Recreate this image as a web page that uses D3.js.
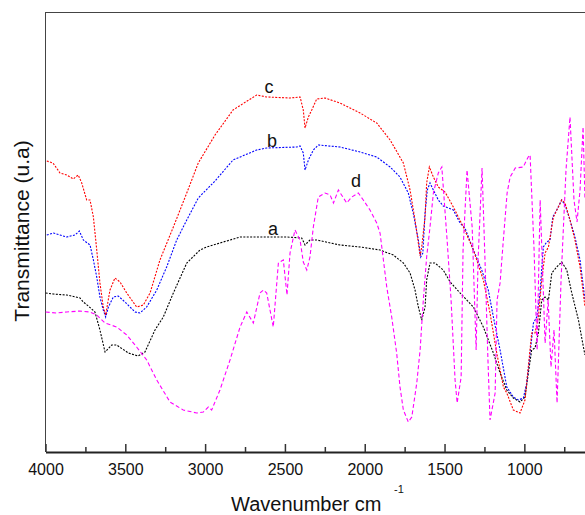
<!DOCTYPE html>
<html>
<head>
<meta charset="utf-8">
<script src="https://cdn.jsdelivr.net/npm/d3@7"></script>
<style>
  body { margin: 0; background: #fff; }
  svg { display: block; font-family: "Liberation Sans", Arial, sans-serif; }
  .spectrum { fill: none; stroke-width: 1.1; }
</style>
</head>
<body>
<svg width="585" height="515"></svg>
<script>
// wavenumber (cm-1), transmittance (arbitrary units, offset per curve)
const curveA = [
  [3999,159],[3951,158],[3867,157],[3784,154],[3763,150],[3732,146],[3690,140],[3659,122],
  [3627,100],[3585,107],[3554,107],[3481,99],[3419,96],[3377,100],[3314,122],[3262,135],
  [3199,159],[3115,189],[3032,202],[2990,205],[2907,209],[2781,215],[2656,215],[2489,215],
  [2395,214],[2374,207],[2343,212],[2301,212],[2155,207],[2029,205],[1904,202],[1821,197],
  [1758,189],[1716,179],[1685,162],[1664,145],[1643,132],[1622,145],[1612,172],[1591,189],
  [1560,189],[1508,182],[1465,170],[1403,159],[1319,145],[1257,125],[1194,99],[1152,79],
  [1110,62],[1069,54],[1027,50],[996,55],[975,79],[954,102],[933,104],[912,119],[891,152],
  [870,155],[849,152],[828,179],[797,185],[766,190],[734,182],[703,159],[661,132],[630,105],[620,97]
];

const curveB = [
  [3992,217],[3951,219],[3909,217],[3867,215],[3815,217],[3788,221],[3763,212],[3721,207],
  [3700,192],[3679,175],[3659,155],[3638,142],[3623,135],[3606,145],[3575,155],[3544,156],
  [3502,150],[3439,140],[3408,139],[3366,145],[3303,162],[3241,185],[3178,212],[3115,232],
  [3043,254],[2938,271],[2825,292],[2677,302],[2614,304],[2426,305],[2405,306],[2385,299],
  [2374,282],[2353,292],[2322,302],[2291,307],[2155,305],[2029,300],[1925,295],[1841,285],
  [1779,275],[1727,259],[1695,238],[1664,212],[1649,195],[1636,199],[1622,239],[1608,262],
  [1591,269],[1570,262],[1539,252],[1508,246],[1445,242],[1403,229],[1372,224],[1319,202],
  [1267,182],[1226,162],[1194,135],[1152,102],[1110,65],[1069,55],[1037,52],[1006,54],
  [985,69],[964,99],[943,129],[922,135],[902,159],[881,205],[860,210],[839,212],[822,235],
  [797,242],[766,252],[745,247],[714,232],[683,215],[651,192],[620,152]
];

const curveC = [
  [3992,291],[3953,289],[3909,279],[3867,277],[3826,273],[3795,277],[3773,269],[3742,252],
  [3721,252],[3700,235],[3679,202],[3659,169],[3638,145],[3623,137],[3596,162],[3565,174],
  [3533,170],[3491,159],[3429,145],[3387,147],[3345,159],[3283,192],[3199,225],[3115,259],
  [3043,289],[2938,317],[2825,342],[2677,357],[2614,355],[2468,354],[2405,355],[2385,342],
  [2374,324],[2353,335],[2332,342],[2301,353],[2249,354],[2155,349],[2029,339],[1925,329],
  [1841,312],[1758,289],[1716,262],[1685,232],[1664,209],[1653,196],[1643,205],[1622,235],
  [1612,269],[1595,285],[1570,275],[1539,265],[1497,260],[1445,245],[1382,225],[1319,202],
  [1257,172],[1215,139],[1173,99],[1131,65],[1110,59],[1069,42],[1027,39],[996,52],[975,85],
  [954,119],[933,119],[912,135],[891,172],[870,199],[849,205],[818,235],[787,245],[766,252],
  [745,249],[714,232],[683,212],[651,185],[620,145]
];

const curveD = [
  [3999,140],[3930,139],[3867,140],[3784,141],[3721,140],[3679,137],[3627,129],[3554,125],
  [3491,117],[3429,105],[3366,92],[3303,72],[3220,50],[3137,42],[3053,39],[3011,40],
  [2980,45],[2959,42],[2907,62],[2844,92],[2781,125],[2739,140],[2698,129],[2656,159],
  [2635,162],[2614,159],[2573,125],[2541,189],[2510,192],[2487,157],[2468,199],[2437,222],
  [2405,212],[2385,190],[2363,182],[2343,195],[2322,225],[2291,255],[2249,259],[2217,257],
  [2196,249],[2165,262],[2113,249],[2081,255],[2040,259],[2009,252],[1967,242],[1925,229],
  [1904,219],[1883,192],[1862,165],[1831,135],[1800,99],[1779,65],[1758,42],[1727,30],
  [1705,35],[1674,69],[1653,102],[1633,152],[1612,195],[1591,225],[1570,259],[1539,279],
  [1517,285],[1484,212],[1459,152],[1434,72],[1421,49],[1396,75],[1384,202],[1359,282],
  [1327,225],[1302,102],[1290,192],[1265,284],[1246,189],[1228,92],[1215,32],[1183,59],
  [1171,152],[1152,169],[1133,209],[1108,259],[1089,275],[1057,284],[1007,285],[976,295],
  [964,297],[939,202],[920,102],[901,252],[870,109],[851,152],[833,85],[814,122],[795,49],
  [770,172],[739,282],[714,335],[689,252],[670,230],[651,262],[632,325],[620,252]
];

const majorTicks = [4000, 3500, 3000, 2500, 2000, 1500, 1000];
const minorTicks = [3750, 3250, 2750, 2250, 1750, 1250, 750];

const series = [
  { name: 'a', data: curveA, color: '#000000', dash: '2 1.4', label: [2575, 217] },
  { name: 'b', data: curveB, color: '#0000ff', dash: '2 1.4', label: [2581, 305] },
  { name: 'c', data: curveC, color: '#ff0000', dash: '2 1.4', label: [2600, 359] },
  { name: 'd', data: curveD, color: '#ff00ff', dash: '4 2.5', label: [2054, 265] }
];

const svg = d3.select('svg');
const margin = { top: 12, left: 45.5, bottom: 452, right: 585 };

const xScale = d3.scaleLinear()
  .domain([4000, 620])
  .range([margin.left, margin.right]);

const yScale = d3.scaleLinear()
  .domain([0, 440])
  .range([margin.bottom, margin.top]);

// frame: top and left
svg.append('line')
  .attr('x1', margin.left).attr('x2', margin.right)
  .attr('y1', margin.top + 0.5).attr('y2', margin.top + 0.5)
  .attr('stroke', '#444').attr('stroke-width', 1);
svg.append('line')
  .attr('x1', margin.left).attr('x2', margin.left)
  .attr('y1', margin.top).attr('y2', margin.bottom)
  .attr('stroke', '#444').attr('stroke-width', 1);

const lineGenerator = d3.line()
  .x(d => xScale(d[0]))
  .y(d => yScale(d[1]));

svg.append('g')
  .selectAll('path')
  .data(series)
  .join('path')
    .attr('class', 'spectrum')
    .attr('d', d => lineGenerator(d.data))
    .attr('stroke', d => d.color)
    .attr('stroke-dasharray', d => d.dash);

// x axis
const xAxis = d3.axisBottom(xScale)
  .tickValues(majorTicks)
  .tickFormat(d3.format('d'))
  .tickSizeInner(-8)
  .tickSizeOuter(0)
  .tickPadding(12);

const xAxisG = svg.append('g')
  .attr('transform', `translate(0, ${margin.bottom})`)
  .call(xAxis);

xAxisG.select('.domain')
  .attr('stroke', '#222')
  .attr('stroke-width', 2);
xAxisG.selectAll('.tick line')
  .attr('stroke', '#333')
  .attr('stroke-width', 1.5);
xAxisG.selectAll('.tick text')
  .attr('font-size', 16)
  .attr('font-family', '"Liberation Sans", Arial, sans-serif')
  .attr('fill', '#111');

const minorAxis = d3.axisBottom(xScale)
  .tickValues(minorTicks)
  .tickFormat('')
  .tickSizeInner(-5)
  .tickSizeOuter(0);

const minorG = svg.append('g')
  .attr('transform', `translate(0, ${margin.bottom})`)
  .call(minorAxis);
minorG.select('.domain').remove();
minorG.selectAll('.tick line')
  .attr('stroke', '#333')
  .attr('stroke-width', 1.5);

// axis titles
const xTitle = svg.append('text')
  .attr('x', 231)
  .attr('y', 511)
  .attr('font-size', 20)
  .attr('fill', '#111');
xTitle.append('tspan').text('Wavenumber cm');
xTitle.append('tspan')
  .attr('x', 394)
  .attr('y', 493)
  .attr('font-size', 11)
  .text('-1');

svg.append('text')
  .attr('transform', 'translate(29, 231) rotate(-90)')
  .attr('text-anchor', 'middle')
  .attr('font-size', 21)
  .attr('fill', '#111')
  .text('Transmittance (u.a)');

// curve labels
svg.append('g')
  .selectAll('text')
  .data(series)
  .join('text')
    .attr('x', d => xScale(d.label[0]))
    .attr('y', d => yScale(d.label[1]))
    .attr('text-anchor', 'middle')
    .attr('font-size', 18)
    .attr('fill', '#111')
    .text(d => d.name);
</script>
</body>
</html>
